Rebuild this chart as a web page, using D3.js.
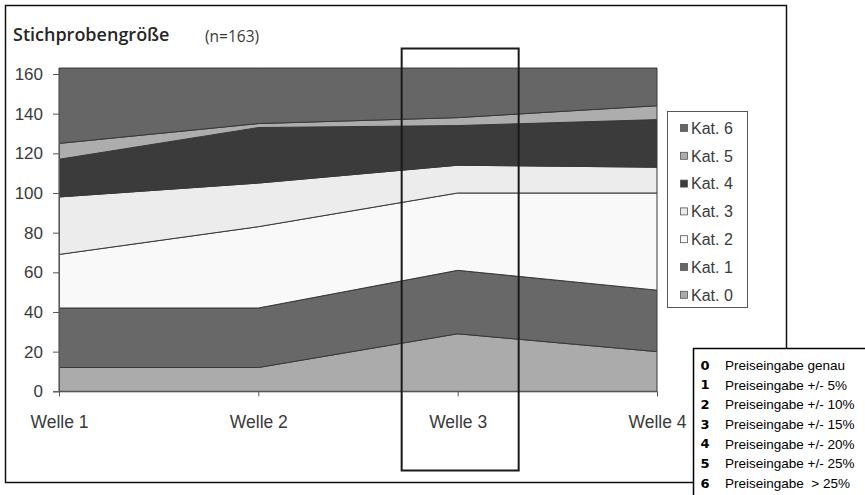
<!DOCTYPE html>
<html>
<head>
<meta charset="utf-8">
<script src="https://cdn.jsdelivr.net/npm/d3@7"></script>
<style>
  html, body { margin: 0; padding: 0; background: #fff; }
  svg { display: block; }
</style>
</head>
<body>
<svg id="chart" width="865" height="495"></svg>
<script>
// Waves (x categories)
const waves = ["Welle 1", "Welle 2", "Welle 3", "Welle 4"];
// Categories, bottom to top of the stack
const categories = ["Kat. 0", "Kat. 1", "Kat. 2", "Kat. 3", "Kat. 4", "Kat. 5", "Kat. 6"];
// Counts per category per wave (n = 163 each wave)
const kat0 = [12, 12, 29, 20];
const kat1 = [30, 30, 32, 31];
const kat2 = [27, 41, 39, 49];
const kat3 = [29, 22, 14, 13];
const kat4 = [19, 28, 20, 24];
const kat5 = [8, 2, 4, 7];
const kat6 = [38, 28, 25, 19];
const yTicks = [0, 20, 40, 60, 80, 100, 120, 140, 160];
const highlightedWave = "Welle 3";
// Explanation of the categories
const keyNumbers = ["0", "1", "2", "3", "4", "5", "6"];
const keyTexts = ["Preiseingabe genau", "Preiseingabe +/- 5%", "Preiseingabe +/- 10%",
  "Preiseingabe +/- 15%", "Preiseingabe +/- 20%", "Preiseingabe +/- 25%", "Preiseingabe  > 25%"];

const fills = ["#ababab", "#686868", "#f9f9f9", "#ececec", "#3b3b3b", "#adadad", "#666666"];

const seriesValues = [kat0, kat1, kat2, kat3, kat4, kat5, kat6];
const table = waves.map((w, i) => {
  const row = { wave: w };
  categories.forEach((c, k) => { row[c] = seriesValues[k][i]; });
  return row;
});

const svg = d3.select("#chart");

// outer frame
svg.append("rect")
  .attr("x", 5.5).attr("y", 5.5).attr("width", 781).attr("height", 477)
  .attr("fill", "#fff").attr("stroke", "#111").attr("stroke-width", 1.5);

// title
svg.append("text")
  .attr("x", 13).attr("y", 41)
  .style("font-family", "'Open Sans', sans-serif").style("font-weight", 600)
  .style("font-size", "18px").attr("fill", "#262626")
  .text("Stichprobengröße");
svg.append("text")
  .attr("x", 205).attr("y", 42)
  .style("font-family", "'Open Sans', sans-serif")
  .style("font-size", "15.5px").attr("fill", "#3a3a3a")
  .text("(n=163)");

const x = d3.scalePoint().domain(waves).range([59, 657]);
const y = d3.scaleLinear().domain([0, 160]).range([391.3, 74]);

const stack = d3.stack().keys(categories);
const layers = stack(table);

const area = d3.area()
  .x(d => x(d.data.wave))
  .y0(d => y(d[0]))
  .y1(d => y(d[1]))
  .curve(d3.curveLinear);

svg.append("g").selectAll("path")
  .data(layers)
  .join("path")
  .attr("d", area)
  .attr("fill", (d, i) => fills[i])
  .attr("stroke", "#383838")
  .attr("stroke-width", 1)
  .attr("stroke-linejoin", "round");

// y axis
const yAxis = svg.append("g")
  .attr("transform", `translate(${x(waves[0])},0)`)
  .call(d3.axisLeft(y).tickValues(yTicks).tickSize(6).tickPadding(10));
yAxis.select(".domain").attr("stroke", "#555");
yAxis.selectAll(".tick line").attr("stroke", "#555");
yAxis.selectAll("text")
  .style("font-family", "'Liberation Sans', Arial, sans-serif")
  .style("font-size", "17px").attr("fill", "#3a3a3a");

// x axis
const xAxis = svg.append("g")
  .attr("transform", `translate(0,${y(0)})`)
  .call(d3.axisBottom(x).tickSize(5).tickPadding(19));
xAxis.select(".domain").attr("stroke", "#555");
xAxis.selectAll(".tick line").attr("stroke", "#555");
xAxis.selectAll("text")
  .style("font-family", "'Liberation Sans', Arial, sans-serif")
  .style("font-size", "17.5px").attr("fill", "#3a3a3a");

// highlight box around one wave
svg.append("rect")
  .attr("x", x(highlightedWave) - 56).attr("y", 48.5)
  .attr("width", 117).attr("height", 422)
  .attr("fill", "none").attr("stroke", "#1a1a1a").attr("stroke-width", 2);

// legend
const legend = svg.append("g");
legend.append("rect")
  .attr("x", 667.5).attr("y", 111.5).attr("width", 80).attr("height", 196)
  .attr("fill", "#fff").attr("stroke", "#555").attr("stroke-width", 1);
const legendOrder = categories.slice().reverse();
const item = legend.selectAll("g.item")
  .data(legendOrder)
  .join("g")
  .attr("class", "item")
  .attr("transform", (d, i) => `translate(0,${128 + i * 27.8})`);
item.append("rect")
  .attr("x", 680.5).attr("y", -3.5).attr("width", 7).attr("height", 7)
  .attr("fill", d => fills[categories.indexOf(d)])
  .attr("stroke", "#555").attr("stroke-width", 0.8);
item.append("text")
  .attr("x", 691).attr("y", 0).attr("dy", "0.36em")
  .style("font-family", "'Liberation Sans', Arial, sans-serif")
  .style("font-size", "16px").attr("fill", "#3a3a3a")
  .text(d => d);

// key table in the lower right corner
const key = svg.append("g");
key.append("rect")
  .attr("x", 693.5).attr("y", 348.5).attr("width", 180).attr("height", 160)
  .attr("fill", "#fff").attr("stroke", "#000").attr("stroke-width", 1.5);
const keyRow = key.selectAll("g.row")
  .data(keyNumbers)
  .join("g")
  .attr("class", "row")
  .attr("transform", (d, i) => `translate(0,${365 + i * 19.7})`);
keyRow.append("text")
  .attr("x", 705).attr("y", 0).attr("dy", "0.36em")
  .attr("text-anchor", "middle")
  .style("font-family", "'DejaVu Sans', Verdana, sans-serif")
  .style("font-weight", "bold").style("font-size", "13px").attr("fill", "#000")
  .text(d => d);
keyRow.append("text")
  .attr("x", 725).attr("y", 0).attr("dy", "0.36em")
  .style("font-family", "'Liberation Sans', Arial, sans-serif")
  .style("font-size", "13.5px").attr("fill", "#000")
  .style("white-space", "pre")
  .text((d, i) => keyTexts[i]);
</script>
</body>
</html>
